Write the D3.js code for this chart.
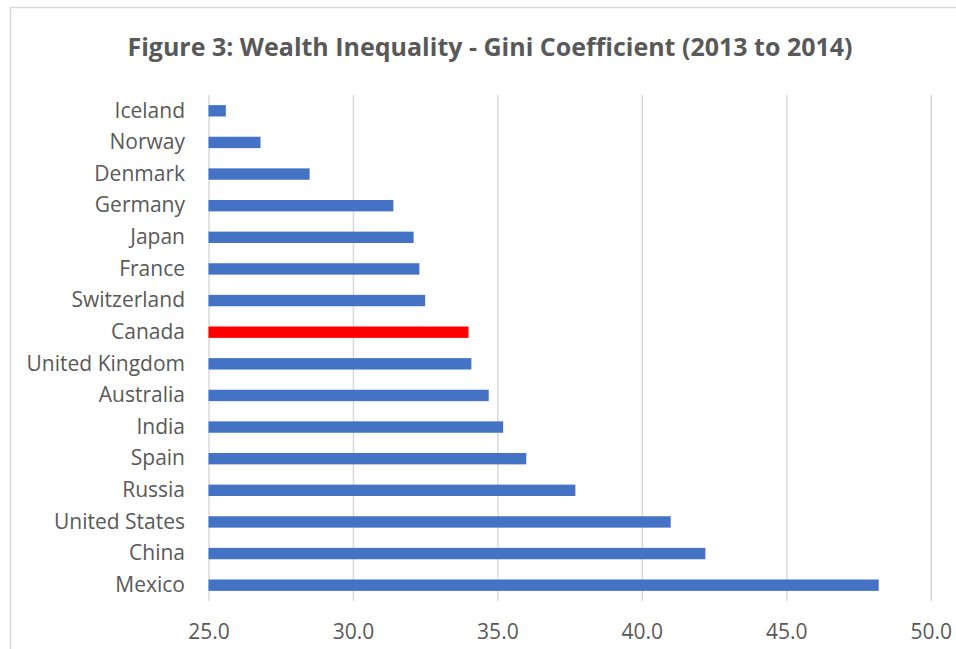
<!DOCTYPE html>
<html>
<head>
<meta charset="utf-8">
<script src="https://cdn.jsdelivr.net/npm/d3@7"></script>
<style>
  body { margin: 0; background: #ffffff; }
  svg { display: block; }
</style>
</head>
<body>
<div id="chart"></div>
<script>
var countries = ["Iceland", "Norway", "Denmark", "Germany", "Japan", "France", "Switzerland", "Canada",
    "United Kingdom", "Australia", "India", "Spain", "Russia", "United States", "China", "Mexico"];
var giniValues = [25.6, 26.8, 28.5, 31.4, 32.1, 32.3, 32.5, 34.0, 34.1, 34.7, 35.2, 36.0, 37.7, 41.0, 42.2, 48.2];
var tickValues = [25, 30, 35, 40, 45, 50];
var highlight = "Canada";
var titleText = "Figure 3: Wealth Inequality - Gini Coefficient (2013 to 2014)";

var svgWidth = 956,
    svgHeight = 649;

var margin = { top: 95, right: 25, bottom: 48, left: 208.5 },
    width = 930.7 - margin.left,
    height = svgHeight - margin.top - margin.bottom;

var barColor = "#4472C4";
var highlightColor = "#FF0000";
var textColor = "#595959";
var gridColor = "#D9D9D9";

var root = d3.select("#chart")
    .append("svg")
    .attr("width", svgWidth)
    .attr("height", svgHeight);

// chart frame
root.append("rect")
    .attr("x", 10.5)
    .attr("y", 7.5)
    .attr("width", 1000)
    .attr("height", 700)
    .attr("fill", "none")
    .attr("stroke", gridColor)
    .attr("stroke-width", 1.5);

root.append("text")
    .attr("x", 490)
    .attr("y", 56)
    .attr("text-anchor", "middle")
    .attr("font-family", "'Open Sans', sans-serif")
    .attr("font-weight", "bold")
    .attr("font-size", 25)
    .attr("fill", textColor)
    .text(titleText);

var svg = root.append("g")
    .attr("transform", "translate(" + margin.left + "," + margin.top + ")");

var x = d3.scaleLinear()
    .domain([25, 50])
    .range([0, width]);

var y = d3.scaleBand()
    .domain(countries)
    .range([0, height])
    .paddingInner(0.64)
    .paddingOuter(0.32);

// gridlines
var grid = svg.append("g")
    .call(d3.axisBottom(x)
        .tickValues(tickValues)
        .tickSize(height)
        .tickFormat(""));
grid.select(".domain").remove();
grid.selectAll("line")
    .attr("stroke", gridColor)
    .attr("stroke-width", 1.5);

// x axis labels
var xAxis = svg.append("g")
    .attr("transform", "translate(0," + height + ")")
    .call(d3.axisBottom(x)
        .tickValues(tickValues)
        .tickSize(0)
        .tickPadding(23)
        .tickFormat(d3.format(".1f")));
xAxis.select(".domain").remove();
xAxis.selectAll("text")
    .attr("font-family", "'Open Sans', sans-serif")
    .attr("font-size", 21)
    .attr("fill", textColor);

// y axis labels
var yAxis = svg.append("g")
    .call(d3.axisLeft(y)
        .tickSize(0)
        .tickPadding(23.5));
yAxis.select(".domain").remove();
yAxis.selectAll("text")
    .attr("font-family", "'Open Sans', sans-serif")
    .attr("font-size", 21)
    .attr("fill", textColor);

svg.selectAll(".bar")
    .data(countries)
    .enter()
    .append("rect")
    .attr("class", "bar")
    .attr("x", x(25))
    .attr("y", d => y(d))
    .attr("width", (d, i) => x(giniValues[i]) - x(25))
    .attr("height", y.bandwidth())
    .attr("fill", d => d == highlight ? highlightColor : barColor);
</script>
</body>
</html>
